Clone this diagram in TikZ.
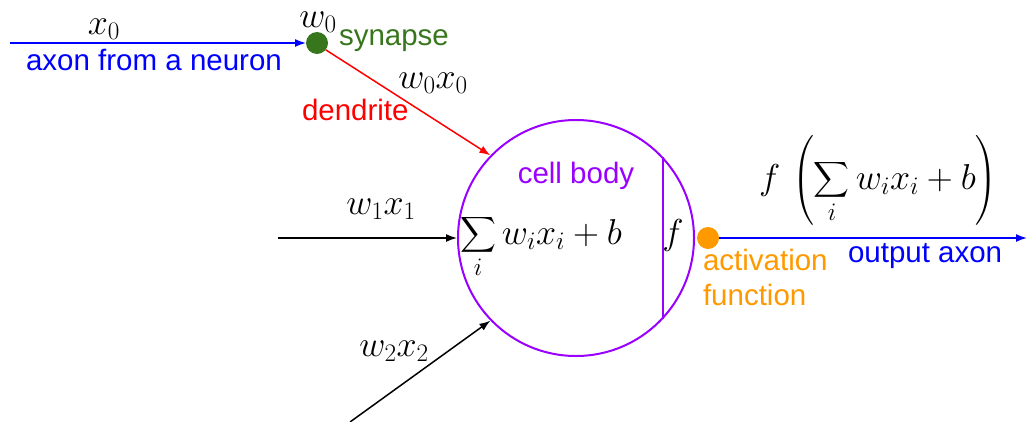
\RequirePackage{fix-cm}
\documentclass[tikz,border=0pt]{standalone}
\usepackage{exscale}
\usepackage[no-math]{fontspec}
\setmainfont{Liberation Sans}
\usetikzlibrary{arrows.meta}
\definecolor{cbody}{RGB}{153,0,255}
\definecolor{syng}{RGB}{56,118,29}
\definecolor{actor}{RGB}{255,153,0}
\definecolor{axblue}{RGB}{0,0,255}
\definecolor{dred}{RGB}{255,0,0}
\tikzset{
  lbl/.style={font=\fontsize{29.5}{35}\selectfont, inner sep=0pt, outer sep=0pt},
  mth/.style={font=\fontsize{36}{42}\selectfont, inner sep=0pt, outer sep=0pt},
  conn/.style={line width=1.5pt, -{Latex[length=11pt,width=8pt]}},
  dotnode/.style={circle, inner sep=0pt, minimum size=22pt, outer sep=0pt},
}
\begin{document}
\begin{tikzpicture}[x=1pt,y=-1pt]
\useasboundingbox (0,0) rectangle (1028,421);
% cell body
\node[circle, draw=cbody, line width=2pt, minimum size=236pt, inner sep=0pt] (body) at (576,238) {};
\draw[cbody, line width=2pt] (body.43.3) -- (body.-43.3);
% dots
\node[dotnode, fill=syng] (syn) at (317,43) {};
\node[dotnode, fill=actor] (act) at (708,238) {};
% free ends
\coordinate (x0start) at (10,43);
\coordinate (x1start) at (278,238);
\coordinate (x2start) at (350,422);
\coordinate (outend) at (1027,238);
% connectors
\draw[conn, axblue] (x0start) -- (syn.west);
\draw[conn, dred] (syn.-38) -- (body.136);
\draw[conn, black] (x1start) -- (body.180);
\draw[conn, black] (x2start) -- (body.224.3);
\draw[conn, axblue] (act.east) -- (outend);
% labels
\node[mth] (lx0) at (104,29) {$x_0$};
\node[lbl, text=axblue, anchor=base] (laxon) at (154,70) {axon from a neuron};
\node[mth] (lw0) at (318,22) {$w_0$};
\node[lbl, text=syng, anchor=base west] (lsyn) at (339,45) {synapse};
\node[mth] (lw0x0) at (433,83) {$w_0x_0$};
\node[lbl, text=dred, anchor=base west] (lden) at (302,120) {dendrite};
\node[lbl, text=cbody, anchor=base] (lcell) at (576,183) {cell body};
\node[mth, anchor=base west] (lsum) at (460,244) {$\displaystyle\sum_i w_ix_i+b$};
\node[mth, anchor=base] (lf) at (673,244) {$f$};
\node[mth] (lw1x1) at (381,209) {$w_1x_1$};
\node[mth] (lw2x2) at (394,351) {$w_2x_2$};
\node[lbl, text=actor, anchor=north west, align=left] (lact) at (703,249) {activation\\function};
\node[lbl, text=axblue, anchor=base west] (lout) at (848,262) {output axon};
\node[mth, anchor=base west] (lfout) at (759,189) {$\displaystyle f\,\left(\sum_i w_ix_i+b\right)$};
\end{tikzpicture}
\end{document}
